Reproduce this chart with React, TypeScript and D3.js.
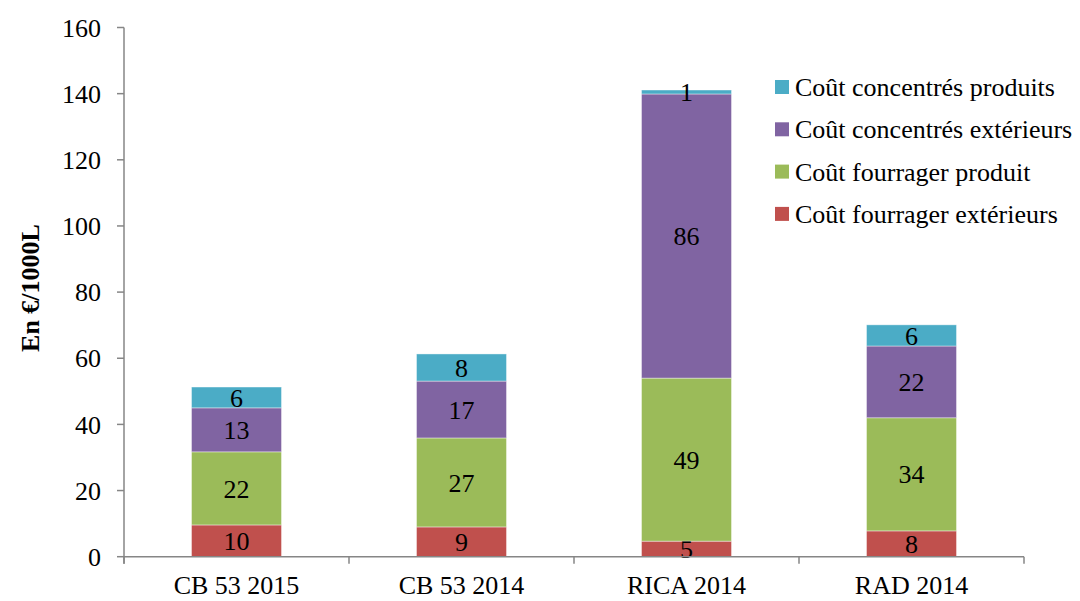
import React from "react";
import * as d3 from "d3";

const categories = ["CB 53 2015", "CB 53 2014", "RICA 2014", "RAD 2014"];
const seriesNames = [
  "Coût fourrager extérieurs",
  "Coût fourrager produit",
  "Coût concentrés extérieurs",
  "Coût concentrés produits",
];
const fourragerExt = [9.6, 9.0, 4.7, 7.8];
const fourragerProd = [22.1, 26.9, 49.3, 34.2];
const concentresExt = [13.3, 17.2, 85.9, 21.7];
const concentresProd = [6.3, 8.2, 1.2, 6.4];
const seriesColors = ["#C0504D", "#9BBB59", "#8064A2", "#4BACC6"];
const yTicks = [0, 20, 40, 60, 80, 100, 120, 140, 160];

const W = 1080, H = 601;
const FONT = "'Liberation Serif', 'Times New Roman', serif";
const FS = 26;

export default function App() {
  const seriesValues = [fourragerExt, fourragerProd, concentresExt, concentresProd];
  const rows = categories.map((c, i) => {
    const r: any = { cat: c };
    seriesNames.forEach((s, j) => (r[s] = seriesValues[j][i]));
    return r;
  });
  const stacked = d3.stack<any>().keys(seriesNames)(rows);

  const x0 = 124, x1 = 1024, yTop = 27.5, yBot = 556.7;
  const x = d3.scaleBand().domain(categories).range([x0, x1]).paddingInner(0.6).paddingOuter(0.3);
  const y = d3.scaleLinear().domain([0, 160]).range([yBot, yTop]);
  const band = (x1 - x0) / categories.length;
  const axisColor = "#868686";

  return (
    <svg width={W} height={H} style={{ position: "absolute", left: 0, top: 0, background: "#fff" }}>
      {stacked.map((s, si) => (
        <g key={s.key}>
          {s.map((d, i) => (
            <rect
              key={i}
              x={x(categories[i])!}
              y={y(d[1])}
              width={x.bandwidth()}
              height={y(d[0]) - y(d[1])}
              fill={seriesColors[si]}
              stroke="#ffffff"
              strokeOpacity={0.5}
              strokeWidth={0.8}
            />
          ))}
          {s.map((d, i) => (
            <text
              key={"t" + i}
              x={x(categories[i])! + x.bandwidth() / 2}
              y={(y(d[0]) + y(d[1])) / 2}
              dy="0.35em"
              textAnchor="middle"
              fontFamily={FONT}
              fontSize={FS}
              fill="#000"
            >
              {Math.round(d[1] - d[0])}
            </text>
          ))}
        </g>
      ))}
      <line x1={x0} x2={x0} y1={yTop} y2={yBot + 7} stroke={axisColor} strokeWidth={1.5} />
      {yTicks.map((t) => (
        <g key={t}>
          <line x1={x0 - 7} x2={x0} y1={y(t)} y2={y(t)} stroke={axisColor} strokeWidth={1.5} />
          <text x={x0 - 23} y={y(t)} dy="0.35em" textAnchor="end" fontFamily={FONT} fontSize={FS} fill="#000">
            {t}
          </text>
        </g>
      ))}
      <line x1={x0} x2={x1} y1={yBot} y2={yBot} stroke={axisColor} strokeWidth={1.5} />
      {d3.range(categories.length + 1).map((i) => (
        <line key={i} x1={x0 + i * band} x2={x0 + i * band} y1={yBot} y2={yBot + 7} stroke={axisColor} strokeWidth={1.5} />
      ))}
      {categories.map((c) => (
        <text key={c} x={x(c)! + x.bandwidth() / 2} y={594} textAnchor="middle" fontFamily={FONT} fontSize={FS} fill="#000">
          {c}
        </text>
      ))}
      <text
        transform={`translate(39, 288) rotate(-90)`}
        textAnchor="middle"
        fontFamily={FONT}
        fontSize={FS}
        fontWeight="bold"
        fill="#000"
      >
        En €/1000L
      </text>
      {[3, 2, 1, 0].map((si, k) => {
        const cy = 87 + k * 42.3;
        return (
          <g key={si}>
            <rect x={775} y={cy - 7} width={14} height={14} fill={seriesColors[si]} />
            <text x={795} y={cy} dy="0.35em" fontFamily={FONT} fontSize={FS} fill="#000">
              {seriesNames[si]}
            </text>
          </g>
        );
      })}
    </svg>
  );
}
